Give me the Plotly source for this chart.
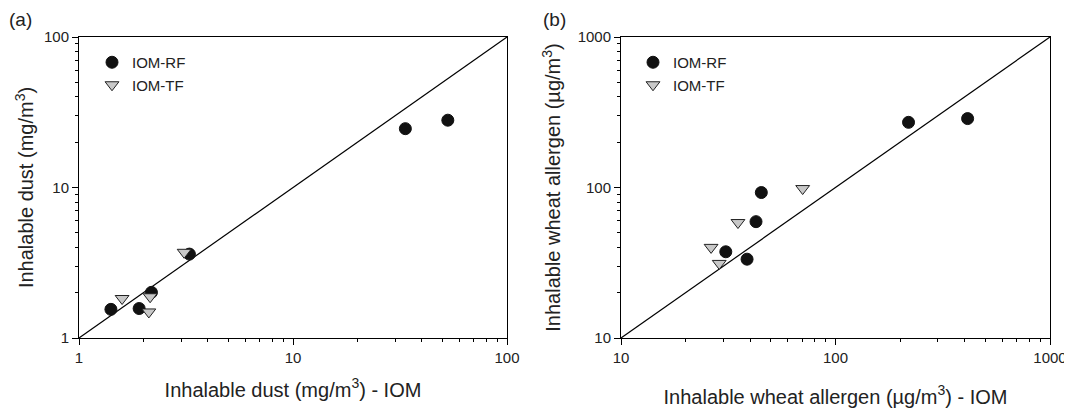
import plotly.graph_objects as go

# Panel (a): inhalable dust, mg/m3
dust_rf_x = [1.41, 1.91, 2.18, 3.28, 33.5, 52.9]
dust_rf_y = [1.55, 1.57, 2.01, 3.61, 24.6, 28.0]
dust_tf_x = [1.59, 2.12, 2.15, 3.10]
dust_tf_y = [1.83, 1.49, 1.88, 3.71]
dust_line = [1, 100]

# Panel (b): inhalable wheat allergen, µg/m3
wheat_rf_x = [30.8, 38.7, 42.6, 45.1, 219, 413]
wheat_rf_y = [37.4, 33.4, 59.3, 92.6, 271, 287]
wheat_tf_x = [26.3, 28.7, 35.1, 70.3]
wheat_tf_y = [40.0, 31.3, 58.5, 98.4]
wheat_line = [10, 1000]

OFF = 8  # page body margin
W, H = 1072 - OFF, 410 - OFF
FONT = "Liberation Sans, Arial, sans-serif"

def px(x):
    return (x - OFF) / W

def py(y):
    return 1 - (y - OFF) / H

circle = dict(symbol="circle", size=12, color="#111111", line=dict(color="#111111", width=1))
tri = dict(symbol="triangle-down", size=12, color="#c8c8c8", line=dict(color="#222222", width=1))

fig = go.Figure()

# panel a
fig.add_trace(go.Scatter(x=dust_line, y=dust_line, mode="lines", line=dict(color="black", width=1.2),
                         showlegend=False, xaxis="x", yaxis="y", hoverinfo="skip"))
fig.add_trace(go.Scatter(x=dust_rf_x, y=dust_rf_y, mode="markers", marker=circle, name="IOM-RF",
                         xaxis="x", yaxis="y", legend="legend"))
fig.add_trace(go.Scatter(x=dust_tf_x, y=dust_tf_y, mode="markers", marker=tri, name="IOM-TF",
                         xaxis="x", yaxis="y", legend="legend"))

# panel b
fig.add_trace(go.Scatter(x=wheat_line, y=wheat_line, mode="lines", line=dict(color="black", width=1.2),
                         showlegend=False, xaxis="x2", yaxis="y2", hoverinfo="skip"))
fig.add_trace(go.Scatter(x=wheat_rf_x, y=wheat_rf_y, mode="markers", marker=circle, name="IOM-RF",
                         xaxis="x2", yaxis="y2", legend="legend2"))
fig.add_trace(go.Scatter(x=wheat_tf_x, y=wheat_tf_y, mode="markers", marker=tri, name="IOM-TF",
                         xaxis="x2", yaxis="y2", legend="legend2"))

def axis(rng, domain, anchor, title, standoff):
    return dict(
        type="log", range=rng, domain=domain, anchor=anchor,
        dtick=1, showgrid=False, zeroline=False,
        showline=True, linecolor="black", linewidth=1, mirror=True,
        ticks="outside", ticklen=6, tickwidth=1, tickcolor="black",
        minor=dict(ticks="outside", ticklen=3, tickwidth=1, tickcolor="black", dtick="D1", showgrid=False),
        tickfont=dict(size=15, color="#222222", family=FONT),
        title=dict(text=title, font=dict(size=20, color="#222222", family=FONT), standoff=standoff),
        automargin=False,
    )

ydom = [py(338), py(37)]
fig.update_layout(
    width=W, height=H,
    margin=dict(l=0, r=0, t=0, b=0),
    paper_bgcolor="white", plot_bgcolor="white",
    font=dict(family=FONT, color="#222222"),
    xaxis=axis([0, 2], [px(79), px(507)], "y", "Inhalable dust (mg/m<sup>3</sup>) - IOM", 17),
    yaxis=axis([0, 2], ydom, "x", "Inhalable dust (mg/m<sup>3</sup>)", 4),
    xaxis2=axis([1, 3], [px(621), px(1050)], "y2", "Inhalable wheat allergen (µg/m<sup>3</sup>) - IOM", 24),
    yaxis2=axis([1, 3], ydom, "x2", "Inhalable wheat allergen (µg/m<sup>3</sup>)", 11),
    legend=dict(x=px(92), y=py(46), xanchor="left", yanchor="top", bgcolor="rgba(0,0,0,0)",
                font=dict(size=15, family=FONT, color="#222222")),
    legend2=dict(x=px(633), y=py(46), xanchor="left", yanchor="top", bgcolor="rgba(0,0,0,0)",
                 font=dict(size=15, family=FONT, color="#222222")),
    annotations=[
        dict(text="(a)", x=px(7), y=py(19), xref="paper", yref="paper", xanchor="left", yanchor="middle",
             showarrow=False, font=dict(size=19, family=FONT, color="#222222")),
        dict(text="(b)", x=px(541), y=py(19), xref="paper", yref="paper", xanchor="left", yanchor="middle",
             showarrow=False, font=dict(size=19, family=FONT, color="#222222")),
    ],
)

fig.write_html("out.html")
